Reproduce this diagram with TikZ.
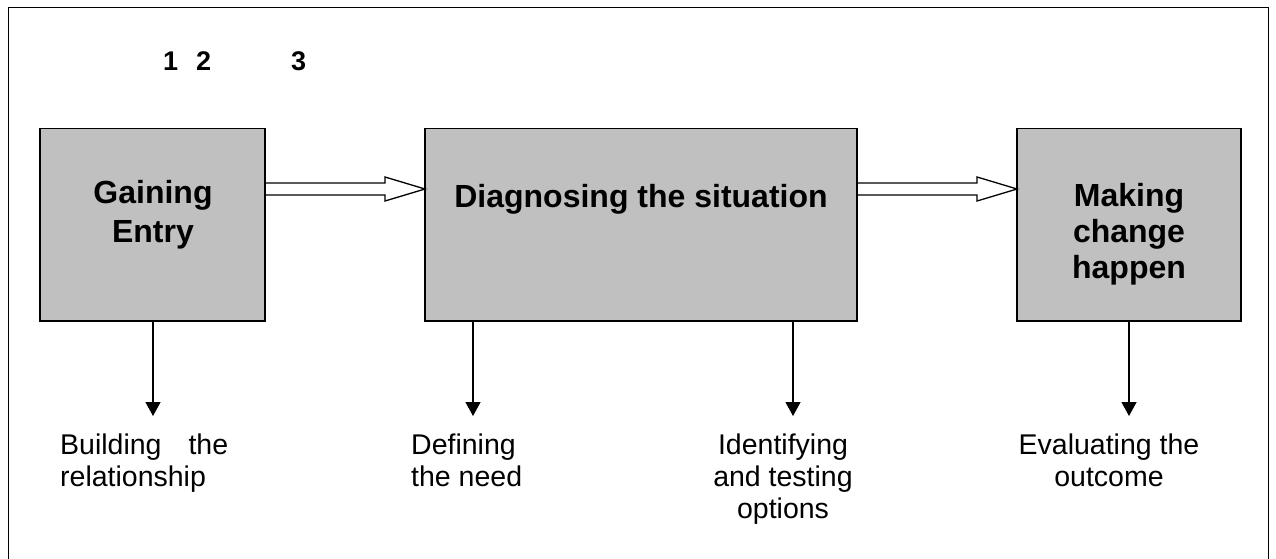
\documentclass[tikz,border=0pt]{standalone}
\usepackage{fontspec}
\setmainfont{Liberation Sans}
\usetikzlibrary{arrows.meta,calc}
\definecolor{boxgray}{HTML}{C0C0C0}
\begin{document}
\begin{tikzpicture}[x=1pt,y=-1pt,
  box/.style={draw=black, line width=1.3pt, fill=boxgray, inner sep=0pt, outer sep=0pt, minimum height=192.5pt},
  boxtext/.style={inner sep=0pt, align=center, font=\bfseries\fontsize{32}{38}\selectfont},
  lbl/.style={inner sep=0pt, font=\fontsize{28.5}{32}\selectfont},
  fat/.style={draw=black, line width=1.3pt, line join=miter},
  down/.style={draw=black, line width=1.3pt, -{Triangle[length=14pt,width=15pt]}},
  frame/.style={draw=black, line width=1pt}]
\useasboundingbox (0,0) rectangle (1276,559);
\fill[white] (0,0) rectangle (1276,559);
\draw[frame] (8,575) -- (8,8) -- (1268,8) -- (1268,575);

% numbers
\node[inner sep=0pt, anchor=base west, font=\bfseries\fontsize{27}{32}\selectfont] (nums) at (163,70.7) {1\kern18pt 2\kern80pt 3};

% boxes
\node[box, minimum width=225pt] (ge) at (152.5,224.75) {};
\node[box, minimum width=432pt] (dg) at (641,224.75) {};
\node[box, minimum width=224pt] (mc) at (1129,224.75) {};

% box texts
\node[boxtext, anchor=north, font=\bfseries\fontsize{32}{39}\selectfont] (geT) at (153,180.6) {Gaining\\Entry};
\node[boxtext, anchor=base] (dgT) at (641,207) {Diagnosing the situation};
\node[boxtext, anchor=north, font=\bfseries\fontsize{32}{36}\selectfont] (mcT) at (1129,183) {Making\\change\\happen};

% fat arrows
\draw[fat] ($(ge.north east)+(0,54.5)$) -- ($(dg.north west)+(-40,54.5)$) -- ($(dg.north west)+(-40,48.5)$)
  -- ($(dg.north west)+(0,60.5)$) -- ($(dg.north west)+(-40,72.5)$) -- ($(dg.north west)+(-40,66.5)$)
  -- ($(ge.north east)+(0,66.5)$);
\draw[fat] ($(dg.north east)+(0,54.5)$) -- ($(mc.north west)+(-40,54.5)$) -- ($(mc.north west)+(-40,48.5)$)
  -- ($(mc.north west)+(0,60.5)$) -- ($(mc.north west)+(-40,72.5)$) -- ($(mc.north west)+(-40,66.5)$)
  -- ($(dg.north east)+(0,66.5)$);

% labels
\node[lbl, anchor=north west, align=left] (bt) at (60,433.6) {\hbox to 168pt{Building\hfill the}\\relationship};
\node[lbl, anchor=north west, align=left] (dn) at (411,433.6) {Defining\\the need};
\node[lbl, anchor=north, align=center] (it) at (783,433.6) {Identifying\\and testing\\options};
\node[lbl, anchor=north, align=center] (ev) at (1109,433.6) {Evaluating the\\outcome};

% down arrows
\coordinate (a1) at (153,416);
\coordinate (a2) at (473,416);
\coordinate (a3) at (793,416);
\coordinate (a4) at (1129,416);
\draw[down] ($(ge.south west)+(113,0)$) -- (a1);
\draw[down] ($(dg.south west)+(48,0)$) -- (a2);
\draw[down] ($(dg.south west)+(368,0)$) -- (a3);
\draw[down] ($(mc.south west)+(112,0)$) -- (a4);
\end{tikzpicture}
\end{document}
